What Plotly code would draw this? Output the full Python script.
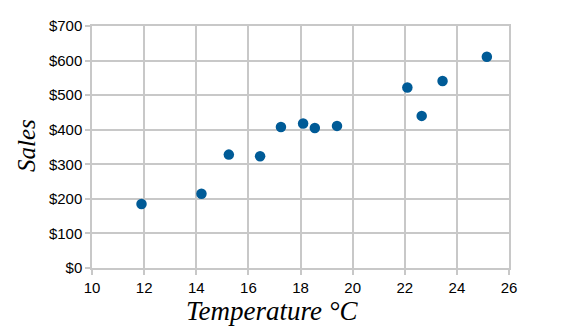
import plotly.graph_objects as go

temperature = [11.9, 14.2, 15.25, 16.45, 17.25, 18.1, 18.55, 19.4, 22.1, 22.65, 23.45, 25.15]
sales = [185, 215, 328, 323, 408, 418, 405, 411, 522, 440, 541, 611]

x_ticks = [10, 12, 14, 16, 18, 20, 22, 24, 26]
y_ticks = [0, 100, 200, 300, 400, 500, 600, 700]
y_labels = ["$" + str(v) for v in y_ticks]

fig = go.Figure(go.Scatter(
    x=temperature, y=sales, mode="markers",
    marker=dict(color="#005b97", size=10.5, line=dict(width=0)),
))

grid = "#c8c8c8"
serif = "Liberation Serif, DejaVu Serif, serif"
L, R, T, B = 92, 56, 26, 64
W, H = 565, 332
pw, ph = W - L - R, H - T - B

fig.update_layout(
    width=W, height=H,
    margin=dict(l=L, r=R, t=T, b=B),
    paper_bgcolor="white", plot_bgcolor="white",
    showlegend=False,
    font=dict(family="Liberation Sans, Arial", size=15, color="#000000"),
    xaxis=dict(
        range=[10, 26], tickvals=x_ticks, ticktext=[str(v) for v in x_ticks],
        showgrid=True, gridcolor=grid, gridwidth=1.5,
        showline=True, linecolor=grid, linewidth=1.5, mirror=True,
        ticks="outside", ticklen=5, tickcolor=grid, tickwidth=1.5,
        zeroline=False,
    ),
    yaxis=dict(
        range=[0, 700], tickvals=y_ticks, ticktext=y_labels,
        showgrid=True, gridcolor=grid, gridwidth=1.5,
        showline=True, linecolor=grid, linewidth=1.5, mirror=True,
        ticks="outside", ticklen=5, tickcolor=grid, tickwidth=1.5,
        zeroline=False,
    ),
    annotations=[
        dict(text="Temperature °C", xref="paper", yref="paper",
             x=(272 - L) / pw, y=(ph + T - 311) / ph, xanchor="center", yanchor="middle",
             showarrow=False,
             font=dict(family=serif, size=27, style="italic", color="#000000")),
        dict(text="Sales", xref="paper", yref="paper", textangle=-90,
             x=(26 - L) / pw, y=(ph + T - 146) / ph, xanchor="center", yanchor="middle",
             showarrow=False,
             font=dict(family=serif, size=25, style="italic", color="#000000")),
    ],
)

fig.write_html("out.html")
